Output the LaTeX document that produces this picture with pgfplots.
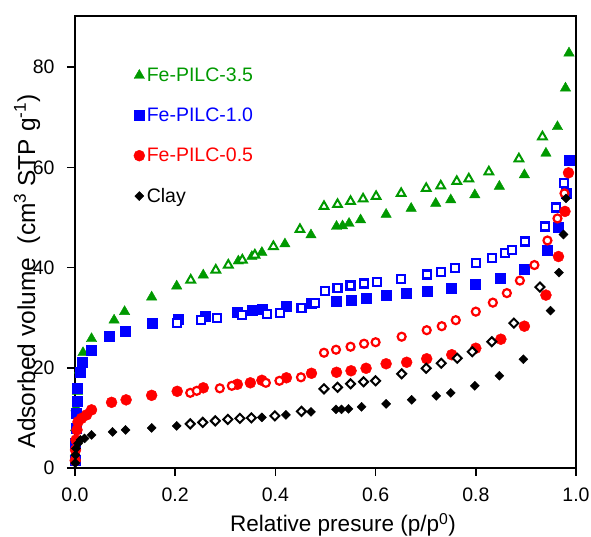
\documentclass[border=0pt]{standalone}
\usepackage{pgfplots}
\pgfplotsset{compat=1.18}
\usepackage{pgfplotstable}
\usepackage{fontspec}
\setmainfont{Liberation Sans}
\definecolor{pgreen}{RGB}{0,153,0}
\definecolor{pblue}{RGB}{0,0,255}
\definecolor{pred}{RGB}{255,0,0}

\pgfplotstableread{
x y
0.0005 3
0.001 8
0.002 12
0.005 15.3
0.009 19.5
0.016 23.0
0.033 25.8
0.078 29.5
0.099 31.2
0.153 34.1
0.203 36.3
0.256 38.5
0.326 41.3
0.353 42.2
0.373 43.0
0.419 44.7
0.471 46.5
0.522 48.2
0.534 48.3
0.547 48.8
0.570 49.5
0.621 50.6
0.671 51.8
0.720 52.8
0.750 53.5
0.798 54.5
0.847 56.2
0.897 58.5
0.940 62.8
0.963 68.1
0.979 75.8
0.986 82.8
}\greenads
\pgfplotstableread{
x y
0.231 37.5
0.281 39.5
0.306 40.5
0.334 41.5
0.359 42.5
0.396 44.2
0.449 47.6
0.497 52.2
0.524 52.6
0.550 53.2
0.575 53.7
0.601 54.2
0.651 54.8
0.701 55.8
0.730 56.3
0.762 57.2
0.786 57.7
0.826 59.1
0.886 61.7
0.933 66.1
}\greendes
\pgfplotstableread{
x y
0.0005 1.5
0.001 5
0.002 8
0.003 10.9
0.004 13.4
0.005 16.0
0.010 19.2
0.015 21.2
0.033 23.6
0.069 26.3
0.101 27.3
0.155 28.8
0.206 29.6
0.259 30.3
0.323 31.1
0.353 31.4
0.373 31.7
0.422 32.2
0.471 32.8
0.522 33.2
0.551 33.5
0.581 33.9
0.621 34.4
0.662 34.8
0.702 35.2
0.751 35.8
0.798 36.7
0.849 37.8
0.896 39.7
0.943 43.4
0.965 48.0
0.981 54.8
0.986 61.5
}\blueads
\pgfplotstableread{
x y
0.203 29.0
0.251 29.5
0.284 29.9
0.333 30.5
0.383 30.7
0.409 31.0
0.452 31.9
0.479 33.0
0.499 35.4
0.524 35.9
0.550 36.4
0.577 36.8
0.602 37.1
0.650 37.7
0.702 38.6
0.731 39.1
0.759 39.9
0.800 40.9
0.833 41.9
0.858 42.9
0.873 43.5
0.898 45.2
0.938 48.2
0.960 52.0
0.976 56.8
}\bluedes
\pgfplotstableread{
x y
0.0005 1.5
0.001 3.6
0.002 5.6
0.004 7.6
0.006 9.2
0.013 9.9
0.023 10.6
0.033 11.6
0.073 13.1
0.102 13.6
0.153 14.5
0.204 15.3
0.256 16.0
0.324 16.7
0.350 17.0
0.373 17.5
0.422 18.0
0.472 18.9
0.522 19.1
0.551 19.4
0.581 19.9
0.621 20.8
0.662 21.1
0.702 21.8
0.752 22.6
0.800 23.9
0.850 25.7
0.897 28.3
0.940 34.5
0.965 42.2
0.978 51.2
0.985 58.9
}\redads
\pgfplotstableread{
x y
0.230 15.0
0.243 15.4
0.289 15.9
0.313 16.4
0.381 17.0
0.408 17.4
0.451 18.1
0.497 23.0
0.521 23.6
0.550 24.2
0.577 24.8
0.600 25.1
0.652 26.2
0.702 27.5
0.732 28.3
0.760 29.5
0.800 31.2
0.834 33.0
0.862 34.9
0.888 37.4
0.917 40.5
0.943 45.4
0.963 49.8
0.977 54.8
}\reddes
\pgfplotstableread{
x y
0.0005 1.0
0.001 2.6
0.002 3.9
0.006 4.9
0.011 5.6
0.019 5.9
0.033 6.6
0.075 7.2
0.101 7.6
0.153 8.0
0.203 8.4
0.373 10.1
0.421 10.6
0.471 11.2
0.521 11.7
0.532 11.7
0.546 11.8
0.572 12.2
0.621 12.8
0.672 13.6
0.721 14.4
0.750 15.0
0.798 16.4
0.847 18.4
0.895 21.7
0.949 31.4
0.966 39.0
0.975 46.6
0.980 53.8
}\clayads
\pgfplotstableread{
x y
0.230 8.8
0.255 9.1
0.280 9.4
0.305 9.7
0.329 9.9
0.352 10.0
0.399 10.4
0.452 11.3
0.497 15.8
0.524 16.1
0.550 16.8
0.576 17.2
0.600 17.4
0.652 18.8
0.701 19.9
0.731 20.9
0.763 21.9
0.793 23.2
0.832 25.2
0.876 28.9
0.928 36.1
}\claydes

\begin{document}
\begin{tikzpicture}
\begin{axis}[
  scale only axis, width=501pt, height=452pt,
  xmin=0, xmax=1, ymin=0, ymax=90.2,
  clip=false,
  axis line style={line width=1.6pt},
  every tick/.style={line width=1.6pt, black},
  major tick length=8pt,
  tick align=outside,
  xtick pos=bottom, ytick pos=left,
  xtick={0,0.2,0.4,0.6,0.8,1},
  xticklabels={0.0,0.2,0.4,0.6,0.8,1.0},
  ytick={0,20,40,60,80},
  yticklabels={0,20,40,60,80},
  /pgf/number format/assume math mode=true,
  ticklabel style={font=\fontsize{19.5}{22}\selectfont},
  x tick label style={yshift=-8pt},
  y tick label style={xshift=-9pt},
  xlabel={Relative presure (p/p\textsuperscript{0})},
  ylabel={Adsorbed volume\ \ (cm\textsuperscript{3} STP g\textsuperscript{-1})},
  xlabel style={font=\fontsize{22.5}{26}\selectfont, at={(axis description cs:0.535,0)}, anchor=base, yshift=-64pt},
  ylabel style={font=\fontsize{24.5}{28}\selectfont, at={(axis description cs:-0.0798,0.435)}, anchor=base},
  legend style={at={(rel axis cs:0.117,0.89)}, anchor=north west, draw=none, fill=none,
    font=\fontsize{19.5}{23}\selectfont, row sep=21pt, inner sep=0pt},
  legend cell align=left,
  legend image code/.code={\draw[mark repeat=2,mark phase=2,#1] plot coordinates {(0pt,0pt)(5pt,0pt)(12pt,0pt)};},
]
\addplot[only marks, mark=triangle*, mark size=6pt, color=pgreen] table {\greenads};
\addlegendentry{\textcolor{pgreen}{Fe-PILC-3.5}}
\addplot[only marks, forget plot, mark=triangle*, mark size=5pt, draw=pgreen, mark options={fill=white, line width=2pt}] table {\greendes};
\addplot[only marks, mark=square*, mark size=5pt, color=pblue] table {\blueads};
\addlegendentry{\textcolor{pblue}{Fe-PILC-1.0}}
\addplot[only marks, forget plot, mark=square*, mark size=4pt, draw=pblue, mark options={fill=white, line width=2.2pt}] table {\bluedes};
\addplot[only marks, mark=*, mark size=5.5pt, color=pred] table {\redads};
\addlegendentry{\textcolor{pred}{Fe-PILC-0.5}}
\addplot[only marks, forget plot, mark=*, mark size=4pt, draw=pred, mark options={fill=white, line width=2.2pt}] table {\reddes};
\addplot[only marks, mark=square*, mark size=3.2pt, color=black, mark options={rotate=45}] table {\clayads};
\addlegendentry{Clay}
\addplot[only marks, forget plot, mark=square*, mark size=3.2pt, draw=black, mark options={rotate=45, fill=white, line width=2pt}] table {\claydes};
\end{axis}
\pgfresetboundingbox
\path (-75pt,-69pt) rectangle (516pt,468pt);
\end{tikzpicture}
\end{document}
